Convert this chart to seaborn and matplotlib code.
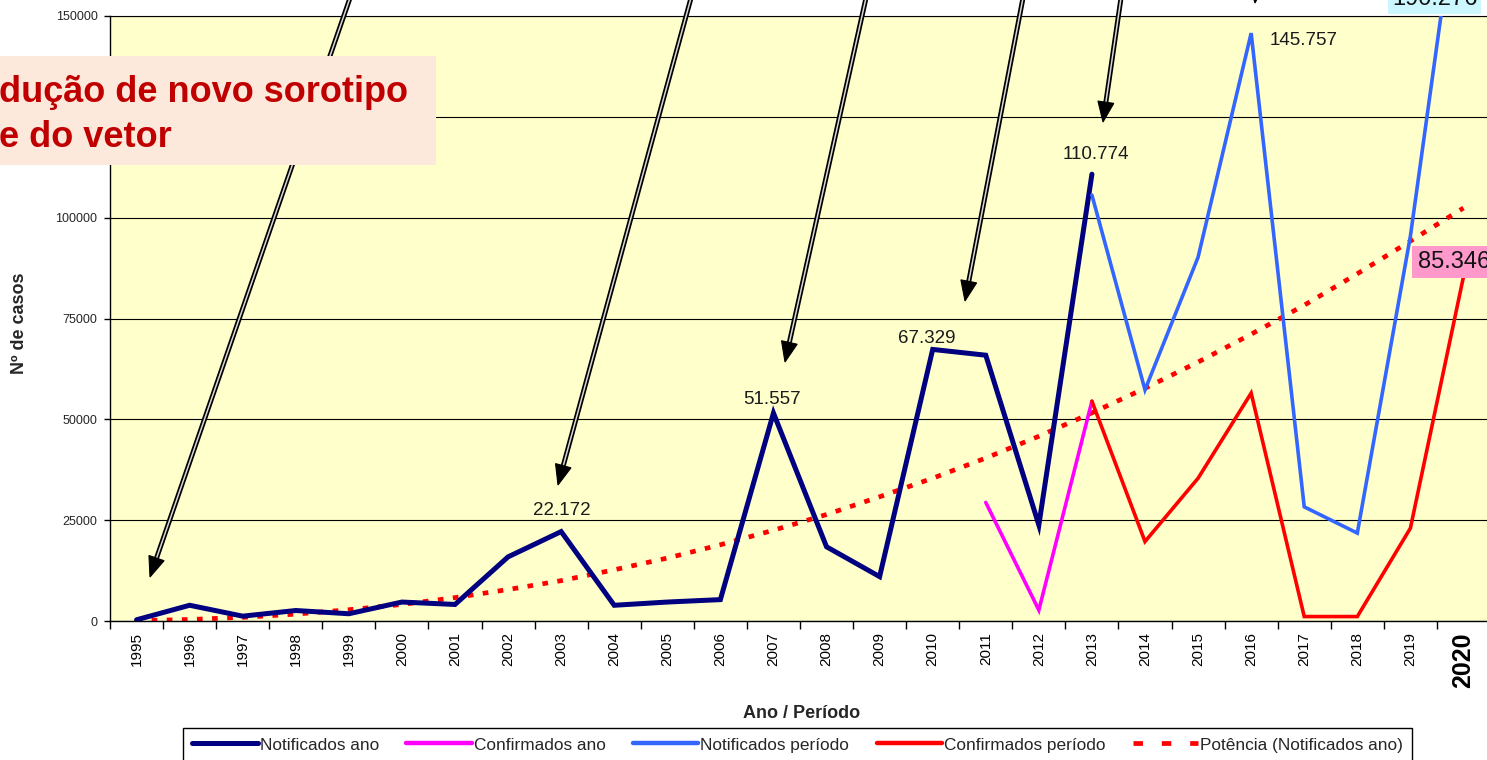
import numpy as np
import pandas as pd
import matplotlib
matplotlib.use("Agg")
import matplotlib.pyplot as plt
import seaborn as sns
from matplotlib.lines import Line2D
from matplotlib.patches import Polygon, Rectangle

# ---------------- data ----------------
years = [str(y) for y in range(1995, 2021)]
notificados_ano = [300, 3900, 1200, 2600, 1800, 4700, 4100, 15900, 22172, 3900,
                   4700, 5300, 51557, 18400, 11000, 67329, 65900, 23800, 110774] + [None] * 7
confirmados_ano = [None] * 16 + [29400, 2700, 54500] + [None] * 7
notificados_periodo = [None] * 18 + [105600, 57300, 90200, 145757, 28300, 21800, 95400, 190276]
confirmados_periodo = [None] * 18 + [54500, 19700, 35400, 56500, 1100, 1100, 23000, 85346]
potencia = [80, 370, 910, 1700, 2800, 4100, 5800, 7800, 10000, 12700, 15600, 18900, 22500,
            26400, 30800, 35400, 40400, 45800, 51600, 57700, 64200, 71100, 78300, 86100,
            94200, 102400]
y_ticks = [0, 25000, 50000, 75000, 100000, 125000, 150000]
y_tick_labels = ["0", "25000", "50000", "75000", "100000", "", "150000"]
series_names = ["Notificados ano", "Confirmados ano", "Notificados período",
                "Confirmados período", "Potência (Notificados ano)"]
annotation_lines = ["dução de novo sorotipo", "e do vetor"]

W, H = 1487, 760
sns.set_theme(style="white")
plt.rcParams["font.family"] = ["Liberation Sans", "DejaVu Sans"]

fig = plt.figure(figsize=(W / 100, H / 100), dpi=100)
fig.patch.set_facecolor("white")
ax = fig.add_axes([110 / W, 139 / H, 1380 / W, 605 / H])
ax.set_facecolor("#FFFFCC")

def frame(vals):
    df = pd.DataFrame({"x": np.arange(len(vals)), "v": pd.to_numeric(pd.Series(vals), errors="coerce")})
    return df.dropna()

colors = ["#000080", "#FF00FF", "#3366FF", "#FF0000", "#FF0000"]
widths = [3.6, 2.6, 2.6, 2.6, 3.4]
datas = [notificados_ano, confirmados_ano, notificados_periodo, confirmados_periodo, potencia]

order = [4, 0, 1, 2, 3]
for k in order:
    d = frame(datas[k])
    sns.lineplot(data=d, x="x", y="v", ax=ax, color=colors[k], linewidth=widths[k],
                 estimator=None, sort=False, legend=False, zorder=3 if k != 4 else 2)
    ln = ax.lines[-1]
    if k == 4:
        ln.set_dashes((1.2, 2.0))
        ln.set_dash_capstyle("butt")
    else:
        ln.set_solid_joinstyle("miter")

ax.set_xlim(-0.5, 25.5)
ax.set_ylim(0, 150000)
ax.set_xlabel("")
ax.set_ylabel("")

ax.set_xticks(range(len(years)))
ax.set_xticklabels(years, rotation=90, fontsize=11)
ax.set_xticks(np.arange(-0.5, len(years)), minor=True)
ax.tick_params(axis="x", which="major", length=0, pad=8, colors="black")
ax.tick_params(axis="x", which="minor", length=6, width=1, direction="out", color="black", bottom=True)
lab = ax.get_xticklabels()[-1]
lab.set_fontweight("bold")
lab.set_fontsize(18)

ax.set_yticks(y_ticks)
ax.set_yticklabels(y_tick_labels, fontsize=9)
ax.tick_params(axis="y", length=4, width=1, direction="out", pad=5, color="black", left=True)

ax.yaxis.grid(True, color="black", linewidth=0.8)
ax.xaxis.grid(False)
ax.set_axisbelow(True)
ax.spines["right"].set_visible(False)
ax.spines["top"].set_visible(True)
ax.spines["top"].set_color("black")
ax.spines["top"].set_linewidth(0.8)
for s in ["left", "bottom"]:
    ax.spines[s].set_color("black")
    ax.spines[s].set_linewidth(1.0)

# data labels
lbl_font = dict(fontsize=13.5, color="#1a1a1a", ha="center", va="center")
def fmt(v):
    return f"{int(v):,}".replace(",", ".")
ax.annotate(fmt(notificados_ano[8]), xy=(8, notificados_ano[8]), xytext=(0.7, 15.3),
            textcoords="offset points", **lbl_font)
ax.annotate(fmt(notificados_ano[12]), xy=(12, notificados_ano[12]), xytext=(-0.7, 10),
            textcoords="offset points", **lbl_font)
ax.annotate(fmt(notificados_ano[15]), xy=(15, notificados_ano[15]), xytext=(-4.3, 8),
            textcoords="offset points", **lbl_font)
ax.annotate(fmt(notificados_ano[18]), xy=(18, notificados_ano[18]), xytext=(3.2, 14.4),
            textcoords="offset points", **lbl_font)
ax.annotate(fmt(notificados_periodo[21]), xy=(21, notificados_periodo[21]), xytext=(38, -5),
            textcoords="offset points", **lbl_font)
ax.annotate(fmt(confirmados_periodo[25]), xy=(25, confirmados_periodo[25]), xytext=(-7.0, 10.5),
            textcoords="offset points", fontsize=17, color="#111111", ha="center", va="center",
            zorder=6, bbox=dict(boxstyle="square,pad=0.22", fc="#FF99CC", ec="none"))
fig.text(1392 / W, 1 - 5 / H, fmt(notificados_periodo[25]), fontsize=17, color="#111111",
         ha="left", va="baseline",
         bbox=dict(boxstyle="square,pad=0.15", fc="#CCF7FF", ec="none"), zorder=6)

# axis titles
fig.text(20 / W, 1 - 323 / H, "Nº de casos", rotation=90, fontsize=13, fontweight="bold",
         ha="center", va="center")
fig.text(802 / W, 1 - 714 / H, "Ano / Período", fontsize=13, fontweight="bold",
         ha="center", va="center")

# legend
handles = [Line2D([], [], color=colors[0], lw=3.6),
           Line2D([], [], color=colors[1], lw=3.2),
           Line2D([], [], color=colors[2], lw=3.2),
           Line2D([], [], color=colors[3], lw=3.2),
           Line2D([], [], color=colors[4], lw=3.4, dashes=(2, 4))]
leg = fig.legend(handles, series_names, ncol=5, loc="upper left",
                 bbox_to_anchor=(183 / W, 1 - 728 / H), frameon=True, fancybox=False,
                 edgecolor="black", framealpha=1, fontsize=12.4, handlelength=3.8,
                 handletextpad=0.1, columnspacing=1.6, borderaxespad=0, borderpad=0.55)
leg.get_frame().set_linewidth(1.0)

# arrows (pixel coords, y downward)
def fx(x):
    return x / W
def fy(y):
    return 1 - y / H

def arrow(start, tip):
    (x0, y0), (x1, y1) = start, tip
    dx, dy = x1 - x0, y1 - y0
    L = np.hypot(dx, dy)
    ux, uy = dx / L, dy / L
    hl, hw = 20, 8
    bx, by = x1 - ux * hl, y1 - uy * hl
    fig.add_artist(Line2D([fx(x0), fx(bx + ux * 2)], [fy(y0), fy(by + uy * 2)],
                          transform=fig.transFigure, color="black", lw=3.6, zorder=4,
                          solid_capstyle="butt"))
    fig.add_artist(Line2D([fx(x0), fx(bx + ux * 2)], [fy(y0), fy(by + uy * 2)],
                          transform=fig.transFigure, color="#d8d8d8", lw=1.1, zorder=4.1,
                          solid_capstyle="butt"))
    px, py = -uy, ux
    pts = [(fx(x1), fy(y1)), (fx(bx + px * hw), fy(by + py * hw)),
           (fx(bx - px * hw), fy(by - py * hw))]
    fig.add_artist(Polygon(pts, closed=True, transform=fig.transFigure, fc="black",
                           ec="black", lw=0.8, zorder=4.2))

arrow((350, -2), (150, 577))
arrow((691, -2), (558, 485))
arrow((866, -2), (785, 362))
arrow((1023, -2), (965, 301))
arrow((1121, -2), (1103, 122))
arrow((1264, -90), (1255, 3))

# annotation box
fig.add_artist(Rectangle((0, fy(165)), 436 / W, 109 / H, transform=fig.transFigure,
                         fc="#FCE9DB", ec="none", zorder=5))
fig.text(fx(-1), fy(102), annotation_lines[0], fontsize=26, fontweight="bold", color="#C00000",
         ha="left", va="baseline", zorder=6)
fig.text(fx(-1), fy(147), annotation_lines[1], fontsize=26, fontweight="bold", color="#C00000",
         ha="left", va="baseline", zorder=6)

fig.savefig("out.png", dpi=100, facecolor="white")
